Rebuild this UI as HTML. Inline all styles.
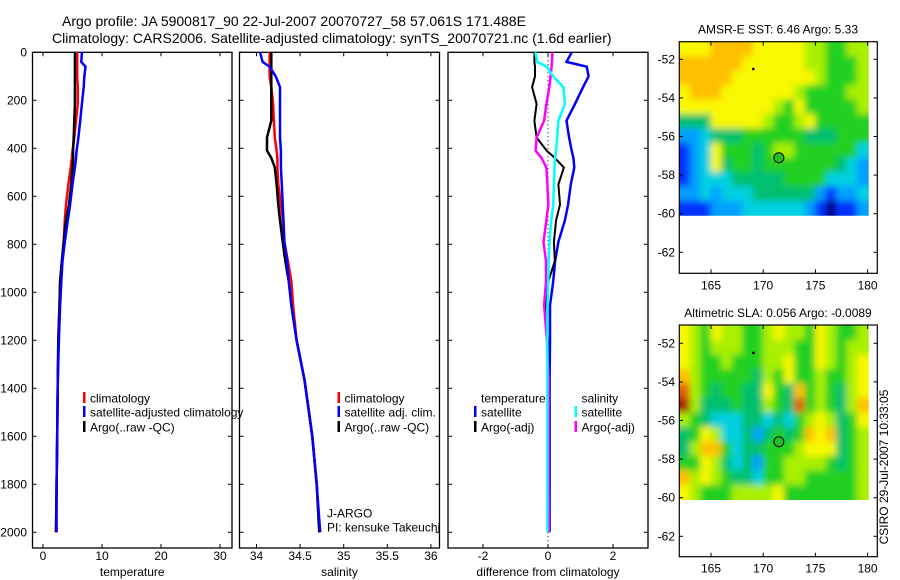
<!DOCTYPE html>
<html><head><meta charset="utf-8"><style>
body{margin:0;background:#fff;}
svg{display:block;font-family:"Liberation Sans",sans-serif;}
</style></head><body>
<svg id="c" width="900" height="580" viewBox="0 0 900 580" xmlns="http://www.w3.org/2000/svg">
<defs>
<clipPath id="clipA"><rect x="679.3" y="41.7" width="189.4" height="174"/></clipPath>
<clipPath id="clipB"><rect x="679.3" y="325" width="189.4" height="175"/></clipPath>
<filter id="bl" x="-0.1" y="-0.1" width="1.2" height="1.2"><feGaussianBlur stdDeviation="3.5"/></filter>
</defs>
<text x="62" y="26" font-size="14">Argo profile: JA 5900817_90 22-Jul-2007 20070727_58 57.061S 171.488E</text>
<text x="52" y="43" font-size="14">Climatology: CARS2006. Satellite-adjusted climatology: synTS_20070721.nc (1.6d earlier)</text>
<g id="g"></g>
</svg>
<script>
// ---- profile data ----
const depths=[0,40,60,100,145,215,285,355,410,440,480,550,635,700,790,870,955,1055,1200,1365,1600,1800,2000];
const depthTicks=[0,200,400,600,800,1000,1200,1400,1600,1800,2000];
const tempClim=[5.8,5.8,5.8,5.8,5.9,5.9,5.6,5.3,5.0,4.9,4.7,4.3,3.9,3.7,3.5,3.2,2.9,2.8,2.6,2.5,2.4,2.3,2.2];
const tempSat=[6.6,6.5,7.2,7.0,6.9,6.6,6.3,6.0,5.7,5.6,5.4,5.0,4.6,4.2,3.7,3.3,3.1,2.9,2.7,2.5,2.4,2.3,2.3];
const tempArgo=[5.4,5.4,5.4,5.4,5.4,5.4,5.3,5.2,5.1,5.1,5.0,4.8,4.4,3.9,3.5,3.2,2.9,2.8,2.6,2.5,2.4,2.3,2.2];
const salClim=[34.15,34.15,34.15,34.15,34.17,34.19,34.2,34.21,34.23,34.24,34.24,34.25,34.28,34.30,34.32,34.36,34.40,34.42,34.46,34.55,34.64,34.69,34.72];
const salSat=[34.04,34.07,34.15,34.22,34.27,34.27,34.27,34.27,34.28,34.28,34.28,34.29,34.30,34.31,34.32,34.35,34.37,34.40,34.46,34.55,34.64,34.69,34.73];
const salArgo=[34.17,34.17,34.17,34.17,34.17,34.17,34.17,34.12,34.12,34.17,34.21,34.23,34.25,34.27,34.30,34.33,34.37,34.40,34.46,34.55,34.64,34.69,34.72];
const tDiffSat=[0.73,0.57,1.19,1.25,1.08,0.83,0.57,0.65,0.73,0.78,0.81,0.70,0.62,0.52,0.32,0.22,0.16,0.06,0.06,0.05,0.05,0.05,0.05];
const tDiffArgo=[-0.42,-0.42,-0.40,-0.40,-0.49,-0.35,-0.42,-0.35,-0.04,0.21,0.49,0.32,0.37,0.25,0.18,0.21,0.01,-0.06,0.0,0.0,0.0,0.0,0.0];
const sDiffSat=[-0.39,-0.33,-0.04,0.16,0.47,0.52,0.32,0.28,0.25,0.22,0.2,0.18,0.16,0.1,0.05,0.02,0.01,-0.02,-0.02,-0.02,-0.02,-0.02,-0.02];
const sDiffArgo=[0.14,0.12,0.11,0.08,0.04,-0.05,-0.12,-0.35,-0.38,-0.2,-0.05,-0.02,0.01,-0.05,-0.14,-0.06,-0.06,-0.12,-0.03,0.02,0.02,0.02,0.03];
const tempTicks=[0,10,20,30];
const salTicks=[34,34.5,35,35.5,36];
const salTickLabels=["34","34.5","35","35.5","36"];
const diffTicks=[-2,0,2];
// ---- map data (levels 0..a, lon 162-180 by 1deg, lat -51.1..-60.1 by 0.75deg) ----
const sstGrid=["777888877777665566","888888777777665556","888887777777765556","788877777776555566","777777777657555556","444777776556755555","223444555555444555","123755545665555553","123745545555555432","123334444455553332","223233344444421223","111222333333210112"];
const slaGrid=["765766556766576556","765666556665576566","765565556675576567","865555546575565567","965455447548565467","a64445446549565468","654333443435676457","457633424545878456","468853445556777456","557643425566665456","867654435566555556","765556666755555556"];
const latTicks=[-52,-54,-56,-58,-60,-62];
const lonTicks=[165,170,175,180];
const argoLon=171.5, argoLat=-57.1;

const NS="http://www.w3.org/2000/svg";
const G=document.getElementById('g');
function el(t,a,p){const e=document.createElementNS(NS,t);for(const k in a)e.setAttribute(k,a[k]);(p||G).appendChild(e);return e;}
const yD=d=>52.3+d*0.24;
const xT=v=>43+v*5.9;
const xS=v=>256.5+(v-34)*87.2;
const xD=v=>548+v*32.5;

const panels=[{x0:32.5,x1:232,ticks:tempTicks,labels:tempTicks.map(String),fx:xT,name:'temperature',lab:'temperature',leftLabels:true},
{x0:239.5,x1:439.5,ticks:salTicks,labels:salTickLabels,fx:xS,name:'salinity',lab:'salinity'},
{x0:448,x1:648,ticks:diffTicks,labels:["-2","0","2"],fx:xD,name:'difference',lab:'difference from climatology'}];
const yTop=52.3,yBot=548;
panels.forEach(p=>{
  const f=el('rect',{x:p.x0,y:yTop,width:p.x1-p.x0,height:yBot-yTop,fill:'none',stroke:'#000','stroke-width':1.3});
  
  
  depthTicks.forEach(d=>{
    const y=yD(d);
    el('line',{x1:p.x0,x2:p.x0+4,y1:y,y2:y,stroke:'#000'});
    el('line',{x1:p.x1-4,x2:p.x1,y1:y,y2:y,stroke:'#000'});
    if(p.leftLabels){const t=el('text',{x:27,y:y+4,'font-size':12,'text-anchor':'end'});t.textContent=d;
      
      }
  });
  p.ticks.forEach((v,i)=>{
    const x=p.fx(v);
    el('line',{x1:x,x2:x,y1:yTop,y2:yTop+4,stroke:'#000'});
    el('line',{x1:x,x2:x,y1:yBot-4,y2:yBot,stroke:'#000'});
    const t=el('text',{x:x,y:560,'font-size':12,'text-anchor':'middle'});t.textContent=p.labels[i];
    
    
  });
  const xl=el('text',{x:(p.x0+p.x1)/2,y:576,'font-size':12,'text-anchor':'middle'});xl.textContent=p.lab;
  
  
});
const zl=el('line',{x1:xD(0),x2:xD(0),y1:yTop,y2:yBot,stroke:'#000','stroke-dasharray':'1,3'});



function series(vals,fx,color,name,w){
  let pts=[];
  vals.forEach((v,i)=>{pts.push(fx(v).toFixed(1)+','+yD(depths[i]).toFixed(1));});
  const pl=el('polyline',{points:pts.join(' '),fill:'none',stroke:color,'stroke-width':w||2.5,'stroke-linejoin':'miter'});
  
  
}
series(tempClim,xT,'#f00','temp-climatology-line');
series(tempArgo,xT,'#000','temp-argo-line');
series(tempSat,xT,'#00f','temp-satellite-line');
series(salClim,xS,'#f00','sal-climatology-line');
series(salArgo,xS,'#000','sal-argo-line');
series(salSat,xS,'#00f','sal-satellite-line');
series(tDiffSat,xD,'#00f','temp-diff-satellite-line');
series(tDiffArgo,xD,'#000','temp-diff-argo-line',2);
series(sDiffArgo,xD,'#f0f','sal-diff-argo-line');
series(sDiffSat,xD,'#0ff','sal-diff-satellite-line');

function legend(x,y,color,label,name){
  if(color){const b=el('rect',{x:x,y:y-6,width:2.5,height:11,fill:color});
    
    }
  const t=el('text',{x:x+7,y:y+4.5,'font-size':12});t.textContent=label;
  
  
}
legend(83,398,'#f00','climatology','legend-climatology');
legend(83,412,'#00f','satellite-adjusted climatology','legend-satellite-adjusted');
legend(83,427,'#000','Argo(..raw -QC)','legend-argo');
legend(337.5,398,'#f00','climatology','legend-sal-climatology');
legend(337.5,412,'#00f','satellite adj. clim.','legend-sal-satellite');
legend(337.5,427,'#000','Argo(..raw -QC)','legend-sal-argo');
legend(474,398,null,'temperature','legend-temperature-header');
legend(474,412,'#00f','satellite','legend-temp-satellite');
legend(474,427,'#000','Argo(-adj)','legend-temp-argo');
legend(574.5,398,null,'salinity','legend-salinity-header');
legend(574.5,412,'#0ff','satellite','legend-sal-satellite-diff');
legend(574.5,427,'#f0f','Argo(-adj)','legend-sal-argo-diff');
legend(320,513,null,'J-ARGO','jargo-label');
legend(320,527,null,'PI: kensuke Takeuchi','pi-label');

// ---- maps ----
const colors={'0':'#00007f','1':'#0030ff','2':'#00a0ff','3':'#00d0e0','4':'#00c070','5':'#20d020','6':'#a8f000','7':'#f8f800','8':'#ffc000','9':'#e06000','a':'#a82000'};
const lonX=l=>711+(l-165)*10.44;
function drawMap(grid,y52,top,bottom,clip,name,title){
  const latY=la=>y52+(-52-la)*19.3;
  const g=el('g',{'clip-path':'url(#'+clip+')'});
  const gi=el('g',{filter:'url(#bl)'},g);
  
  
  const nr=grid.length;
  // padded by one cell on each side (edge values repeated) so blur doesn't fade edges
  for(let r=-1;r<=nr;r++){
    const row=grid[Math.max(0,Math.min(nr-1,r))];
    for(let c=-1;c<=row.length;c++){
      const v=row[Math.max(0,Math.min(row.length-1,c))];
      const la0=-51.1-r*0.75, l0=162+c;
      const x=lonX(l0),y=latY(la0);
      const cell=el('rect',{x:x-0.3,y:y-0.3,width:lonX(l0+1)-x+0.6,height:latY(la0-0.75)-y+0.6,fill:colors[v]},gi);
      
      
    }
  }
  const fr=el('rect',{x:679.3,y:top,width:198,height:bottom-top,fill:'none',stroke:'#000','stroke-width':1.2});
  
  
  latTicks.forEach(la=>{
    const y=latY(la);
    el('line',{x1:679.3,x2:683,y1:y,y2:y,stroke:'#000'});
    el('line',{x1:873.5,x2:877.3,y1:y,y2:y,stroke:'#000'});
    const t=el('text',{x:675,y:y+4,'font-size':12,'text-anchor':'end'});t.textContent=la;
    
    
  });
  lonTicks.forEach(l=>{
    const x=lonX(l);
    el('line',{x1:x,x2:x,y1:top,y2:top+4,stroke:'#000'});
    el('line',{x1:x,x2:x,y1:bottom-4,y2:bottom,stroke:'#000'});
    const t=el('text',{x:x,y:bottom+16,'font-size':12,'text-anchor':'middle'});t.textContent=l;
    
    
  });
  const d=el('circle',{cx:lonX(169.05),cy:latY(-52.5),r:1.3,fill:'#000'});
  
  
  const c=el('circle',{cx:lonX(argoLon),cy:latY(argoLat),r:5,fill:'#20c020',stroke:'#000','stroke-width':1});
  
  
  const tt=el('text',{x:778,y:top-8,'font-size':12,'text-anchor':'middle'});tt.textContent=title;
  
  
}
drawMap(sstGrid,59.3,41.7,273.3,'clipA','sst-map','AMSR-E SST: 6.46 Argo: 5.33');
drawMap(slaGrid,343.3,325,556.7,'clipB','sla-map','Altimetric SLA: 0.056 Argo: -0.0089');
const cs=el('text',{x:0,y:0,'font-size':12,'text-anchor':'middle',transform:'translate(888,467) rotate(-90)'});
cs.textContent='CSIRO 29-Jul-2007 10:33:05';


</script>
</body></html>
